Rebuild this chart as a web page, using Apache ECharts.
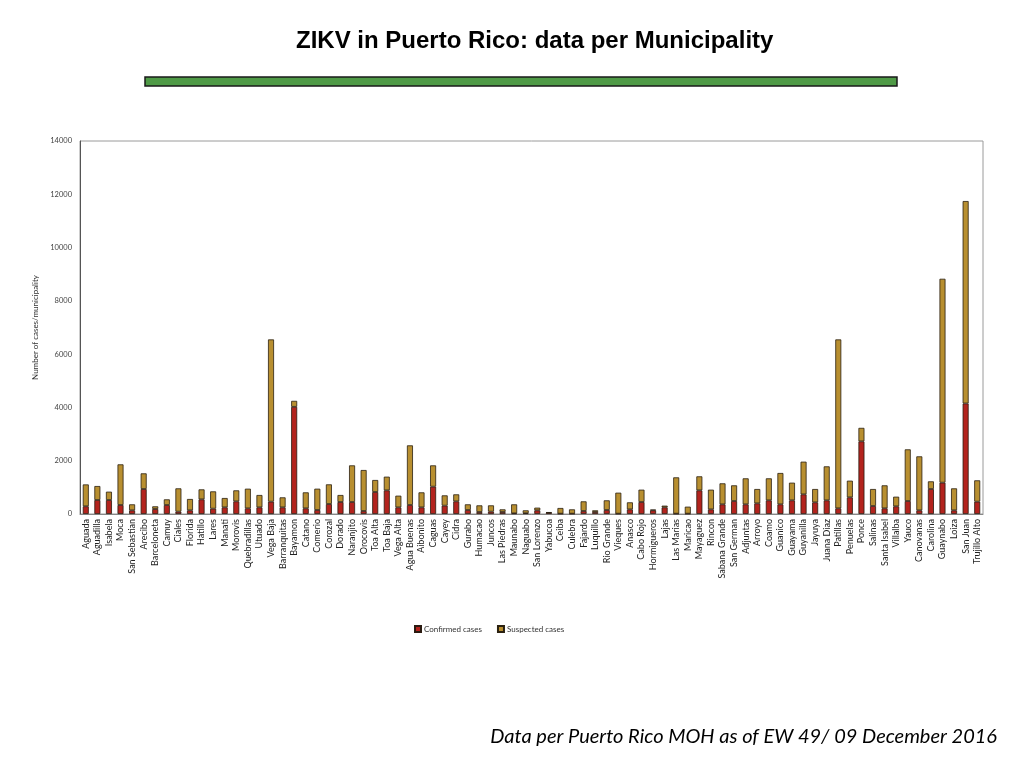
<!DOCTYPE html>
<html>
<head>
<meta charset="utf-8">
<script src="https://cdn.jsdelivr.net/npm/echarts@6/dist/echarts.min.js"></script>
<style>
html,body{margin:0;padding:0;background:#fff;}
#chart{width:1024px;height:768px;}
</style>
</head>
<body>
<div id="chart"></div>
<script>
var municipalities = ["Aguada","Aguadilla","Isabela","Moca","San Sebastian","Arecibo","Barceloneta","Camuy","Ciales","Florida","Hatillo","Lares","Manati","Morovis","Quebradillas","Utuado","Vega Baja","Barranquitas","Bayamon","Catano","Comerio","Corozal","Dorado","Naranjito","Orocovis","Toa Alta","Toa Baja","Vega Alta","Agua Buenas","Aibonito","Caguas","Cayey","Cidra","Gurabo","Humacao","Juncos","Las Piedras","Maunabo","Naguabo","San Lorenzo","Yabucoa","Ceiba","Culebra","Fajardo","Luquillo","Rio Grande","Vieques","Anasco","Cabo Rojo","Hormigueros","Lajas","Las Marias","Maricao","Mayaguez","Rincon","Sabana Grande","San German","Adjuntas","Arroyo","Coamo","Guanico","Guayama","Guyanilla","Jayuya","Juana Diaz","Patillas","Penuelas","Ponce","Salinas","Santa Isabel","Villalba","Yauco","Canovanas","Carolina","Guaynabo","Loiza","San Juan","Trujillo Alto"];

var confirmedCases = [290,525,525,338,138,938,188,338,88,138,550,200,250,475,213,250,463,250,4022,213,150,375,450,450,113,826,888,250,338,250,1026,313,475,150,75,88,75,25,30,138,50,13,13,113,75,150,13,175,450,138,250,13,13,888,175,363,488,363,400,513,363,513,738,438,513,213,625,2727,300,213,288,488,138,938,1176,138,4149,463];

var suspectedCases = [820,525,313,1526,225,588,100,212,875,425,375,650,350,413,737,463,6090,375,225,600,800,738,263,1376,1538,450,513,438,2239,563,800,387,263,213,250,237,100,338,108,100,13,212,162,362,63,363,787,263,463,25,63,1363,262,526,738,788,588,976,538,826,1176,663,1226,500,1276,6340,626,506,638,863,362,1939,2026,288,7653,825,7597,801];

var yTicks = {min: 0, max: 14000, interval: 2000};

var chart = echarts.init(document.getElementById('chart'));
chart.setOption({
  backgroundColor: '#ffffff',
  animation: false,
  title: [{
    text: 'ZIKV in Puerto Rico: data per Municipality',
    left: 291,
    top: 24,
    textStyle: {fontFamily: 'Liberation Sans', fontWeight: 'bold', fontSize: 24, color: '#000'}
  }],
  graphic: [
    {type: 'rect', shape: {x: 145, y: 77, width: 752, height: 9},
     style: {fill: '#4f9a46', stroke: '#1a1a1a', lineWidth: 1.5}},
    {type: 'text', right: 27, top: 727,
     style: {text: 'Data per Puerto Rico MOH as of EW 49/ 09 December 2016',
             font: 'italic 20px Lato', fill: '#000'}}
  ],
  legend: {
    left: 409, top: 620,
    itemWidth: 6, itemHeight: 6, itemGap: 15,
    textStyle: {fontFamily: 'Lato', fontSize: 8, color: '#333', padding: [0,0,0,-2]},
    data: [{name: 'Confirmed cases', icon: 'rect'}, {name: 'Suspected cases', icon: 'rect'}]
  },
  grid: {left: 80, right: 41, top: 141, bottom: 254, show: true, borderColor: '#9a9a9a', borderWidth: 1, containLabel: false},
  xAxis: {
    type: 'category',
    data: municipalities,
    axisLine: {lineStyle: {color: '#888', width: 1}},
    axisTick: {show: false},
    axisLabel: {rotate: 90, interval: 0, fontFamily: 'Lato', fontSize: 9, color: '#222', margin: 5}
  },
  yAxis: {
    type: 'value',
    min: yTicks.min, max: yTicks.max, interval: yTicks.interval,
    name: 'Number of cases/municipality',
    nameLocation: 'middle',
    nameGap: 32,
    nameTextStyle: {fontFamily: 'Lato', fontSize: 8, color: '#333'},
    axisLine: {show: true, lineStyle: {color: '#555', width: 1}},
    axisTick: {show: false},
    splitLine: {show: false},
    axisLabel: {fontFamily: 'Lato', fontSize: 7.5, color: '#444', margin: 8,
                formatter: function (v) { return String(v); }}
  },
  series: [
    {name: 'Confirmed cases', type: 'bar', stack: 'total', data: confirmedCases, barWidth: 6,
     itemStyle: {color: '#b3231d', borderColor: '#2a1a10', borderWidth: 0.8}},
    {name: 'Suspected cases', type: 'bar', stack: 'total', data: suspectedCases, barWidth: 6,
     itemStyle: {color: '#b88f30', borderColor: '#2a2010', borderWidth: 0.8}}
  ]
});
</script>
</body>
</html>
